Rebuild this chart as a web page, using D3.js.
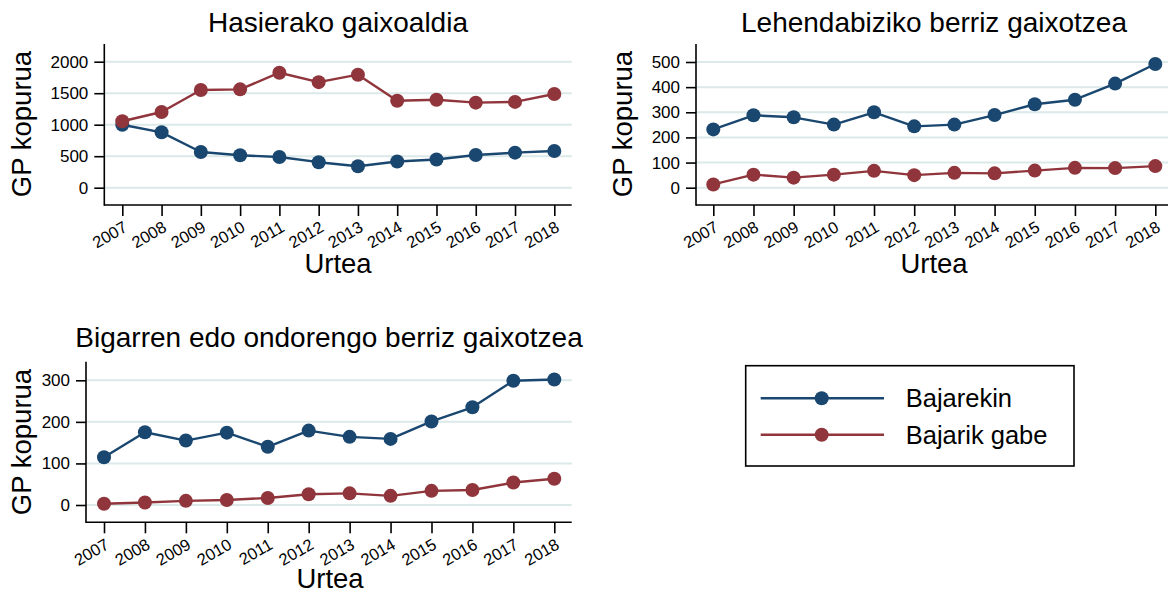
<!DOCTYPE html>
<html>
<head>
<meta charset="utf-8">
<script src="https://cdn.jsdelivr.net/npm/d3@7"></script>
<style>
  html, body { margin: 0; padding: 0; background: #ffffff; }
  svg { display: block; }
  text { font-family: "Liberation Sans", Arial, Helvetica, sans-serif; fill: #000; }
</style>
</head>
<body>
<svg id="chart" width="1168" height="593"></svg>
<script>
// ---------------- DATA ----------------
const years = [2007, 2008, 2009, 2010, 2011, 2012, 2013, 2014, 2015, 2016, 2017, 2018];
const seriesNames = ["Bajarekin", "Bajarik gabe"];
const panelTitles = ["Hasierako gaixoaldia", "Lehendabiziko berriz gaixotzea", "Bigarren edo ondorengo berriz gaixotzea"];
const yAxisTitle = "GP kopurua";
const xAxisTitle = "Urtea";

// Hasierako gaixoaldia
const hasieraBajarekin   = [1000, 879, 567, 514, 487, 405, 340, 416, 447, 519, 556, 583];
const hasieraBajarikGabe = [1055, 1202, 1551, 1561, 1825, 1675, 1794, 1380, 1397, 1350, 1362, 1487];
const hasieraTicks = [0, 500, 1000, 1500, 2000];

// Lehendabiziko berriz gaixotzea
const lehenBajarekin   = [232, 288, 280, 251, 300, 244, 251, 289, 332, 350, 414, 492];
const lehenBajarikGabe = [13, 52, 40, 52, 67, 50, 59, 57, 68, 79, 78, 86];
const lehenTicks = [0, 100, 200, 300, 400, 500];

// Bigarren edo ondorengo berriz gaixotzea
const bigarrenBajarekin   = [115, 175, 155, 174, 140, 179, 164, 159, 201, 235, 299, 302];
const bigarrenBajarikGabe = [3, 6, 10, 12, 17, 26, 28, 22, 34, 36, 54, 63];
const bigarrenTicks = [0, 100, 200, 300];

// ---------------- STYLE ----------------
const colors = ["#1a476f", "#90353b"];
const gridColor = "#dce9e9";
const titleFont = "28px";
const bigFont = "27.5px";
const tickFont = "17px";
const xTickFont = "16.5px";
const fontFam = "'Liberation Sans', Arial, Helvetica, sans-serif";

const svg = d3.select("#chart");

// layout of each panel (pixel geometry)
const panels = [
  { title: panelTitles[0], s1: hasieraBajarekin, s2: hasieraBajarikGabe, ticks: hasieraTicks,
    left: 104.3, right: 571.7, top: 44, bottom: 205,
    xFirst: 122.3, xLast: 554.3, yDomain: [0, 2000], yRange: [187.7, 61.7],
    titleX: 338, titleY: 31.5, yLabX: 31, yLabY: 124, xLabX: 338, xLabY: 273 },
  { title: panelTitles[1], s1: lehenBajarekin, s2: lehenBajarikGabe, ticks: lehenTicks,
    left: 696, right: 1172.6, top: 44, bottom: 205,
    xFirst: 713.3, xLast: 1155.3, yDomain: [0, 500], yRange: [187.7, 62],
    titleX: 934, titleY: 31.5, yLabX: 632, yLabY: 124, xLabX: 934, xLabY: 273 },
  { title: panelTitles[2], s1: bigarrenBajarekin, s2: bigarrenBajarikGabe, ticks: bigarrenTicks,
    left: 86, right: 571.7, top: 361.7, bottom: 522.3,
    xFirst: 104, xLast: 554.3, yDomain: [0, 300], yRange: [505, 380.3],
    titleX: 329, titleY: 347.3, yLabX: 31, yLabY: 442, xLabX: 330, xLabY: 588 }
];

panels.forEach(p => {
  const g = svg.append("g");
  const x = d3.scaleLinear().domain([years[0], years[years.length - 1]]).range([p.xFirst, p.xLast]);
  const y = d3.scaleLinear().domain(p.yDomain).range(p.yRange);

  // gridlines
  g.append("g").selectAll("line").data(p.ticks).join("line")
    .attr("x1", p.left).attr("x2", p.right)
    .attr("y1", d => y(d)).attr("y2", d => y(d))
    .attr("stroke", gridColor).attr("stroke-width", 2);

  // y axis
  const yAxis = g.append("g").attr("transform", `translate(${p.left},0)`)
    .call(d3.axisLeft(y).tickValues(p.ticks).tickSize(10).tickPadding(6).tickFormat(d3.format("d")));
  yAxis.select(".domain").remove();
  yAxis.selectAll(".tick line").attr("stroke", "#000").attr("stroke-width", 1.6);
  yAxis.selectAll(".tick text")
    .style("font-size", tickFont).style("font-family", fontFam).style("fill", "#000");
  g.append("line").attr("x1", p.left).attr("x2", p.left).attr("y1", p.top).attr("y2", p.bottom + 0.8)
    .attr("stroke", "#000").attr("stroke-width", 1.6);

  // x axis
  const xAxis = g.append("g").attr("transform", `translate(0,${p.bottom})`)
    .call(d3.axisBottom(x).tickValues(years).tickSize(11).tickFormat(d3.format("d")));
  xAxis.select(".domain").remove();
  xAxis.selectAll(".tick line").attr("stroke", "#000").attr("stroke-width", 1.6);
  xAxis.selectAll(".tick text")
    .style("font-size", xTickFont).style("font-family", fontFam).style("fill", "#000")
    .attr("text-anchor", "end")
    .attr("y", 0).attr("dy", "0.35em")
    .attr("transform", "translate(2.8,20.5) rotate(-30)");
  g.append("line").attr("x1", p.left).attr("x2", p.right).attr("y1", p.bottom).attr("y2", p.bottom)
    .attr("stroke", "#000").attr("stroke-width", 1.6);

  // series
  [p.s1, p.s2].forEach((vals, i) => {
    const pts = years.map((yr, k) => [yr, vals[k]]);
    g.append("path").datum(pts)
      .attr("fill", "none").attr("stroke", colors[i]).attr("stroke-width", 2.4)
      .attr("stroke-linejoin", "round")
      .attr("d", d3.line().x(d => x(d[0])).y(d => y(d[1])));
    g.append("g").selectAll("circle").data(pts).join("circle")
      .attr("cx", d => x(d[0])).attr("cy", d => y(d[1])).attr("r", 7)
      .attr("fill", colors[i]);
  });

  // titles
  g.append("text").attr("x", p.titleX).attr("y", p.titleY).attr("text-anchor", "middle")
    .style("font-size", titleFont).text(p.title);
  g.append("text").attr("transform", `translate(${p.yLabX},${p.yLabY}) rotate(-90)`)
    .attr("text-anchor", "middle").style("font-size", bigFont).text(yAxisTitle);
  g.append("text").attr("x", p.xLabX).attr("y", p.xLabY).attr("text-anchor", "middle")
    .style("font-size", bigFont).text(xAxisTitle);
});

// legend
const legend = svg.append("g");
legend.append("rect").attr("x", 745.7).attr("y", 365.7).attr("width", 328.3).attr("height", 100.3)
  .attr("fill", "#fff").attr("stroke", "#000").attr("stroke-width", 1.6);
const legendY = d3.scalePoint().domain(seriesNames).range([398.3, 434.7]);
seriesNames.forEach((name, i) => {
  const ly = legendY(name);
  legend.append("line").attr("x1", 760.7).attr("x2", 884).attr("y1", ly).attr("y2", ly)
    .attr("stroke", colors[i]).attr("stroke-width", 2.4);
  legend.append("circle").attr("cx", 821.7).attr("cy", ly).attr("r", 7).attr("fill", colors[i]);
  legend.append("text").attr("x", 905.7).attr("y", ly).attr("dy", "0.35em")
    .style("font-size", "25.5px").text(name);
});
</script>
</body>
</html>
